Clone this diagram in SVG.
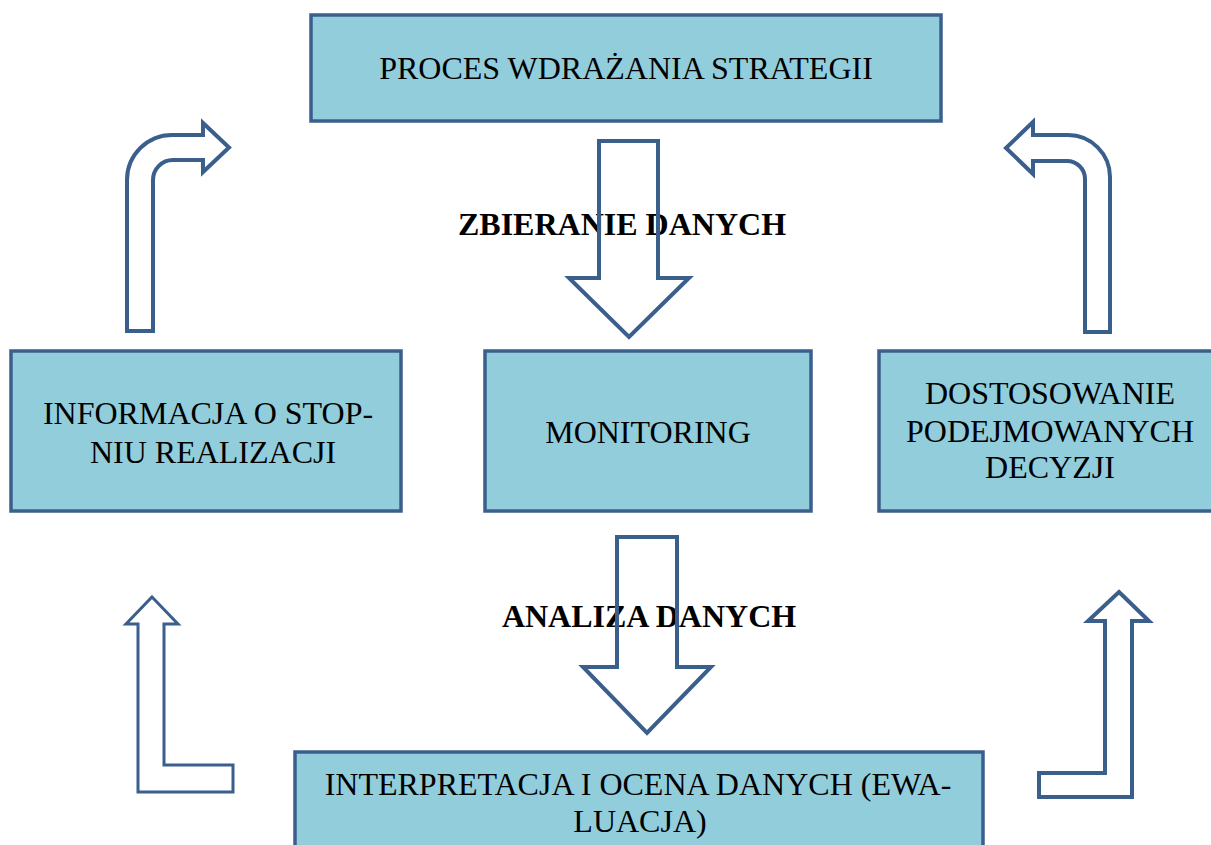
<svg xmlns="http://www.w3.org/2000/svg" width="1211" height="845" viewBox="0 0 1211 845">
<style>
.box{fill:#92CDDC;stroke:#3B5F8C;stroke-width:3.5}
.t{font-family:"Liberation Serif","Times New Roman",serif;font-size:32px;fill:#000;text-anchor:middle}
.b{font-weight:bold}
.arr{fill:none;stroke:#3B5F8C;stroke-width:4;stroke-linejoin:miter}
.arrw{fill:#fff;stroke:#3B5F8C;stroke-width:4;stroke-linejoin:miter}
.thin{stroke-width:3}
</style>
<rect width="1211" height="845" fill="#fff"/>
<g id="node-proces">
<rect class="box" x="311" y="15" width="630" height="106"/>
<text class="t" x="626" y="79">PROCES WDRAŻANIA STRATEGII</text>
</g>
<g id="node-informacja">
<rect class="box" x="11" y="351" width="390" height="160"/>
<text class="t" x="208" y="424">INFORMACJA O STOP-</text>
<text class="t" x="213" y="463">NIU REALIZACJI</text>
</g>
<g id="node-monitoring">
<rect class="box" x="485" y="351" width="326" height="160"/>
<text class="t" x="648" y="443">MONITORING</text>
</g>
<g id="node-dostosowanie">
<rect class="box" x="879" y="351" width="340" height="160"/>
<text class="t" x="1050" y="404">DOSTOSOWANIE</text>
<text class="t" x="1050" y="442">PODEJMOWANYCH</text>
<text class="t" x="1050" y="478">DECYZJI</text>
</g>
<g id="node-interpretacja">
<rect class="box" x="295" y="752" width="688" height="110"/>
<text class="t" x="638" y="795">INTERPRETACJA I OCENA DANYCH (EWA-</text>
<text class="t" x="640" y="832">LUACJA)</text>
</g>
<g id="labels">
<text class="t b" x="622" y="235">ZBIERANIE DANYCH</text>
<text class="t b" x="649" y="627">ANALIZA DANYCH</text>
</g>
<g id="connectors">
<path class="arr" d="M599 141 L658 141 L658 278 L689 278 L629 337 L569 278 L599 278 Z"/>
<path class="arr" d="M617 537 L677 537 L677 667 L711 667 L647 733 L583 667 L617 667 Z"/>
<path class="arrw" d="M127 331 L127 180 A45 45 0 0 1 172 135 L203 135 L203 123 L229 147.5 L203 172 L203 160 L173 160 A20 20 0 0 0 153 180 L153 331 Z"/>
<path class="arrw" d="M1110 332 L1110 177 A42 42 0 0 0 1068 135 L1033 135 L1033 122 L1006 148 L1033 174 L1033 161 L1067 161 A18 18 0 0 1 1085 179 L1085 332 Z"/>
<path class="arrw thin" d="M152 597 L178 624 L164 624 L164 765 L233 765 L233 792 L138 792 L138 624 L126 624 Z"/>
<path class="arrw" d="M1119 592 L1149 621 L1132 621 L1132 797 L1039 797 L1039 773 L1105 773 L1105 621 L1088 621 Z"/>
</g>
</svg>
